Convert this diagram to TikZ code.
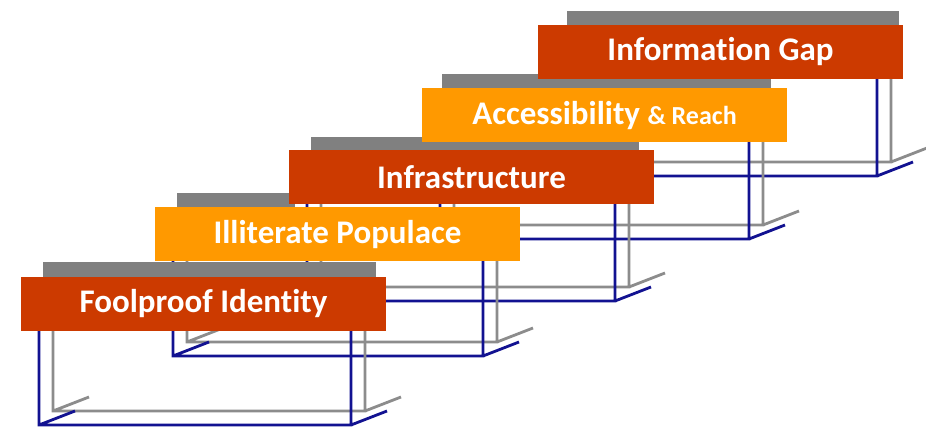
\documentclass[tikz,border=0pt]{standalone}
\usepackage{fontspec}
\setmainfont{Carlito}[RawFeature={-liga}]
\definecolor{barred}{RGB}{204,58,0}
\definecolor{barorange}{RGB}{255,153,0}
\definecolor{frameblue}{RGB}{18,18,145}
\definecolor{stripgray}{RGB}{128,128,128}
\definecolor{framegray}{RGB}{140,140,140}

\begin{document}
\begin{tikzpicture}[x=1pt,y=-1pt,
	bframe/.style={frameblue, line width=2.8pt},
	gframe/.style={framegray, line width=2.8pt},
	strip/.style={fill=stripgray},
	bar/.style={minimum width=365pt, minimum height=54pt, inner sep=0pt, text=white, font=\bfseries\fontsize{33}{36}\selectfont},
	redbar/.style={bar, fill=barred},
	orangebar/.style={bar, fill=barorange}]
	    \useasboundingbox (0,0) rectangle (926,427);
	    \draw[gframe] (570,79) -- (570,162) -- (891,162) -- (891,79) (570,162) -- ++(36,-14) (891,162) -- ++(36,-14);
	    \draw[bframe] (556,79) -- (556,176) -- (877,176) -- (877,79) (556,176) -- ++(36,-14) (877,176) -- ++(36,-14);
	    \fill[strip] (567,11) rectangle (899,35);
	    \draw[gframe] (454,142) -- (454,225) -- (763,225) -- (763,142) (454,225) -- ++(36,-14) (763,225) -- ++(36,-14);
	    \draw[bframe] (440,142) -- (440,239) -- (749,239) -- (749,142) (440,239) -- ++(36,-14) (749,239) -- ++(36,-14);
	    \fill[strip] (442,74) rectangle (771,98);
	    \draw[gframe] (321,204) -- (321,287) -- (629,287) -- (629,204) (321,287) -- ++(36,-14) (629,287) -- ++(36,-14);
	    \draw[bframe] (307,204) -- (307,301) -- (615,301) -- (615,204) (307,301) -- ++(36,-14) (615,301) -- ++(36,-14);
	    \fill[strip] (311,137) rectangle (639,161);
	    \draw[gframe] (187,261) -- (187,342) -- (497,342) -- (497,261) (187,342) -- ++(36,-14) (497,342) -- ++(36,-14);
	    \draw[bframe] (173,261) -- (173,356) -- (483,356) -- (483,261) (173,356) -- ++(36,-14) (483,356) -- ++(36,-14);
	    \fill[strip] (177,193) rectangle (295,217);
	    \draw[gframe] (53,331) -- (53,411) -- (365,411) -- (365,331) (53,411) -- ++(36,-14) (365,411) -- ++(36,-14);
	    \draw[bframe] (39,331) -- (39,425) -- (351,425) -- (351,331) (39,425) -- ++(36,-14) (351,425) -- ++(36,-14);
	    \fill[strip] (43,262) rectangle (376,286);
	    \node[redbar] (E) at (720.5,52) {Information Gap};
	    \node[orangebar] (D) at (604.5,115.5) {Accessibility {\fontsize{26}{28}\selectfont\&~Reach}};
	    \node[redbar] (C) at (471.5,177) {Infrastructure};
	    \node[orangebar] (B) at (337.5,234.5) {Illiterate Populace};
	    \node[redbar] (A) at (203.5,304) {Foolproof Identity};
	\end{tikzpicture}
\end{document}
